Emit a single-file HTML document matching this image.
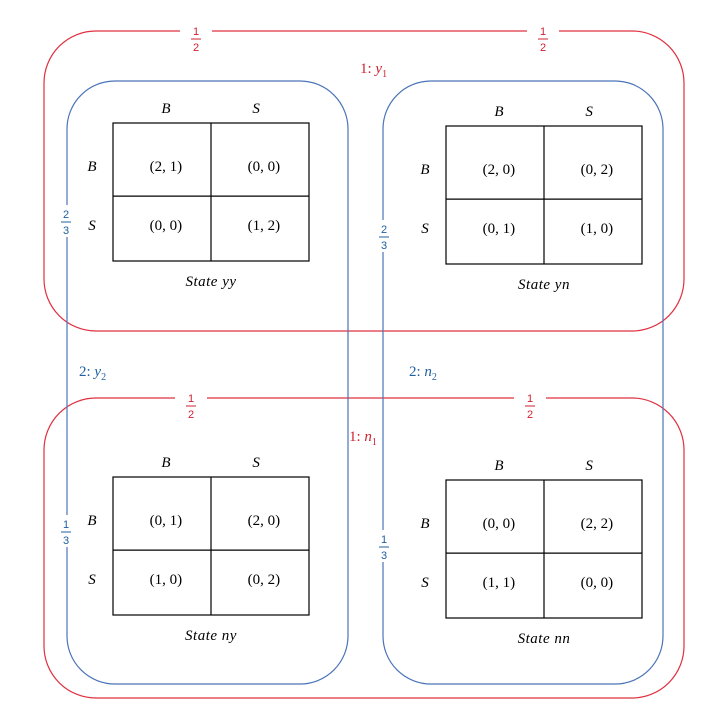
<!DOCTYPE html>
<html><head><meta charset="utf-8"><style>
html,body{margin:0;padding:0;background:#fff}
svg{display:block;font-family:"Liberation Serif",serif}
</style></head><body>
<svg width="704" height="726" viewBox="0 0 704 726" xmlns="http://www.w3.org/2000/svg">
<g fill="none" stroke-width="1.2">
<rect x="44" y="31" width="640" height="300" rx="52" stroke="#e03040"/>
<rect x="44" y="398" width="640" height="300" rx="52" stroke="#e03040"/>
<rect x="67" y="81" width="281" height="603" rx="48" stroke="#4a74b8"/>
<rect x="383" y="81" width="280" height="603" rx="48" stroke="#4a74b8"/>
</g>
<g fill="#fff">
<rect x="180" y="24" width="32" height="30"/><rect x="527" y="24" width="32" height="30"/>
<rect x="175" y="391" width="32" height="30"/><rect x="514" y="391" width="32" height="30"/>
<rect x="58" y="205" width="16" height="32"/><rect x="58" y="515" width="16" height="32"/>
<rect x="376" y="220" width="16" height="32"/><rect x="376" y="530" width="16" height="32"/>
</g>
<g font-size="11" text-anchor="middle" font-family="Liberation Sans,sans-serif">
<g fill="#d02030">
<text x="196" y="35">1</text><line x1="191" y1="39" x2="201" y2="39" stroke="#d02030"/><text x="196" y="51">2</text>
<text x="543" y="35">1</text><line x1="538" y1="39" x2="548" y2="39" stroke="#d02030"/><text x="543" y="51">2</text>
<text x="191" y="402">1</text><line x1="186" y1="406" x2="196" y2="406" stroke="#d02030"/><text x="191" y="418">2</text>
<text x="530" y="402">1</text><line x1="525" y1="406" x2="535" y2="406" stroke="#d02030"/><text x="530" y="418">2</text>
</g>
<g fill="#2060a0">
<text x="66" y="218">2</text><line x1="61" y1="222" x2="71" y2="222" stroke="#2060a0"/><text x="66" y="234">3</text>
<text x="66" y="528">1</text><line x1="61" y1="532" x2="71" y2="532" stroke="#2060a0"/><text x="66" y="544">3</text>
<text x="384" y="233">2</text><line x1="379" y1="237" x2="389" y2="237" stroke="#2060a0"/><text x="384" y="249">3</text>
<text x="384" y="543">1</text><line x1="379" y1="547" x2="389" y2="547" stroke="#2060a0"/><text x="384" y="559">3</text>
</g>
</g>
<g font-size="15">
<text x="360" y="73" fill="#d02030">1: <tspan font-style="italic">y</tspan><tspan font-size="10" dy="4">1</tspan></text>
<text x="349" y="441" fill="#d02030">1: <tspan font-style="italic">n</tspan><tspan font-size="10" dy="4">1</tspan></text>
<text x="79" y="376" fill="#2060a0">2: <tspan font-style="italic">y</tspan><tspan font-size="10" dy="4">2</tspan></text>
<text x="409" y="376" fill="#2060a0">2: <tspan font-style="italic">n</tspan><tspan font-size="10" dy="4">2</tspan></text>
</g>
<g id="tables"></g>
</svg>
<script>
const stateNames=["yy","yn","ny","nn"];
const payoffs=[["(2, 1)","(0, 0)","(0, 0)","(1, 2)"],["(2, 0)","(0, 2)","(0, 1)","(1, 0)"],["(0, 1)","(2, 0)","(1, 0)","(0, 2)"],["(0, 0)","(2, 2)","(1, 1)","(0, 0)"]];
const strategies=["B","S"];
const pos=[[113,123],[446,126],[113,477],[446,480]];
const NS="http://www.w3.org/2000/svg";
const g=document.getElementById("tables");
function mk(t,a,txt){const e=document.createElementNS(NS,t);for(const k in a)e.setAttribute(k,a[k]);if(txt!=null)e.textContent=txt;return e;}
stateNames.forEach((s,i)=>{
 const [x,y]=pos[i];const w=196,h=138;
 const grp=mk("g",{});
 
 
 grp.appendChild(mk("rect",{x:x,y:y,width:w,height:h,fill:"none",stroke:"#000","stroke-width":1.2}));
 grp.appendChild(mk("line",{x1:x+w/2,y1:y,x2:x+w/2,y2:y+h,stroke:"#000","stroke-width":1.2}));
 grp.appendChild(mk("line",{x1:x,y1:y+h*0.53,x2:x+w,y2:y+h*0.53,stroke:"#000","stroke-width":1.2}));
 strategies.forEach((st,j)=>{
  grp.appendChild(mk("text",{x:x+w*(0.27+0.46*j),y:y-10,"font-size":15,"font-style":"italic","text-anchor":"middle"},st));
  grp.appendChild(mk("text",{x:x-21,y:y+h*(0.31+0.43*j)+5,"font-size":15,"font-style":"italic","text-anchor":"middle"},st));
 });
 payoffs[i].forEach((p,k)=>{
  const r=Math.floor(k/2),c=k%2;
  grp.appendChild(mk("text",{x:x+w*(0.27+0.5*c),y:y+h*(0.31+0.43*r)+5,"font-size":15,"text-anchor":"middle"},p));
 });
 grp.appendChild(mk("text",{x:x+w/2,y:y+h+25,"font-size":15,"font-style":"italic","text-anchor":"middle","letter-spacing":"0.5"},"State "+s));
 g.appendChild(grp);
});
</script>
</body></html>
